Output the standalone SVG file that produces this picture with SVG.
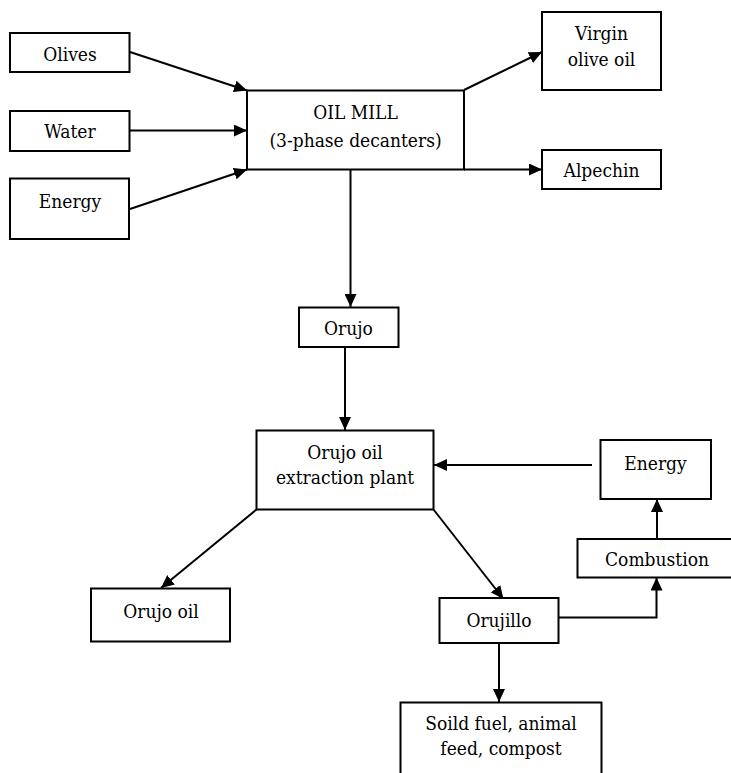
<svg xmlns="http://www.w3.org/2000/svg" width="731" height="773" viewBox="0 0 731 773">
<style>
  .box { fill: #fff; stroke: #000; stroke-width: 2; }
  .t { font-family: 'DejaVu Serif Condensed', 'DejaVu Serif', serif; font-stretch: condensed; font-size: 19px; fill: #000; text-anchor: middle; }
  .c { fill: none; stroke: #000; stroke-width: 2; }
</style>
<defs>
  <marker id="ah" markerUnits="userSpaceOnUse" markerWidth="14" markerHeight="12" refX="13" refY="6" orient="auto">
    <path d="M0,0 L13,6 L0,12 Z" fill="#000"/>
  </marker>
</defs>
<rect width="731" height="773" fill="#fff"/>
<g id="connectors">
  <line class="c" x1="130" y1="52" x2="247" y2="90.5" marker-end="url(#ah)"/>
  <line class="c" x1="130" y1="130.5" x2="247" y2="130.5" marker-end="url(#ah)"/>
  <line class="c" x1="130" y1="209" x2="247" y2="169.5" marker-end="url(#ah)"/>
  <line class="c" x1="464" y1="90" x2="542" y2="52" marker-end="url(#ah)"/>
  <line class="c" x1="464" y1="169.5" x2="542" y2="169.5" marker-end="url(#ah)"/>
  <line class="c" x1="350.5" y1="169.5" x2="350.5" y2="307" marker-end="url(#ah)"/>
  <line class="c" x1="345" y1="347" x2="345" y2="430" marker-end="url(#ah)"/>
  <line class="c" x1="592" y1="465" x2="434" y2="465" marker-end="url(#ah)"/>
  <line class="c" x1="657" y1="539" x2="657" y2="499" marker-end="url(#ah)"/>
  <line class="c" x1="256.5" y1="509.5" x2="161" y2="588" marker-end="url(#ah)"/>
  <line class="c" x1="433.5" y1="509.5" x2="503.5" y2="599" marker-end="url(#ah)"/>
  <polyline class="c" points="558.5,617.5 656.5,617.5 656.5,577.5" marker-end="url(#ah)"/>
  <line class="c" x1="499" y1="643" x2="499" y2="702" marker-end="url(#ah)"/>
</g>
<g id="olives"><rect class="box" x="10" y="33" width="119.5" height="39"/><text class="t" x="70" y="61">Olives</text></g>
<g id="water"><rect class="box" x="10" y="111" width="119.5" height="40"/><text class="t" x="70" y="138">Water</text></g>
<g id="energy-in"><rect class="box" x="10" y="178.5" width="119" height="60.5"/><text class="t" x="70" y="208">Energy</text></g>
<g id="oil-mill"><rect class="box" x="247" y="90.5" width="217" height="79"/><text class="t" x="355.5" y="119">OIL MILL</text><text class="t" x="355.5" y="147">(3-phase decanters)</text></g>
<g id="virgin"><rect class="box" x="542" y="12" width="119" height="78"/><text class="t" x="601.5" y="39.5">Virgin</text><text class="t" x="601.5" y="65.5">olive oil</text></g>
<g id="alpechin"><rect class="box" x="542" y="150" width="119" height="39"/><text class="t" x="601.5" y="177">Alpechin</text></g>
<g id="orujo"><rect class="box" x="299" y="307.5" width="99.5" height="39.5"/><text class="t" x="348.5" y="335">Orujo</text></g>
<g id="extraction"><rect class="box" x="256.5" y="430.5" width="177" height="79"/><text class="t" x="345" y="459">Orujo oil</text><text class="t" x="345" y="484">extraction plant</text></g>
<g id="energy-right"><rect class="box" x="600.5" y="440" width="110.5" height="59"/><text class="t" x="655.5" y="470">Energy</text></g>
<g id="combustion"><rect class="box" x="577.5" y="539" width="160" height="38.5"/><text class="t" x="657" y="566">Combustion</text></g>
<g id="orujo-oil"><rect class="box" x="91" y="588.5" width="139" height="53"/><text class="t" x="161" y="618">Orujo oil</text></g>
<g id="orujillo"><rect class="box" x="439.5" y="598" width="119" height="45"/><text class="t" x="499" y="627">Orujillo</text></g>
<g id="solid"><rect class="box" x="400.5" y="702.5" width="201" height="90"/><text class="t" x="501" y="729.5">Soild fuel, animal</text><text class="t" x="501" y="755">feed, compost</text></g>
</svg>
